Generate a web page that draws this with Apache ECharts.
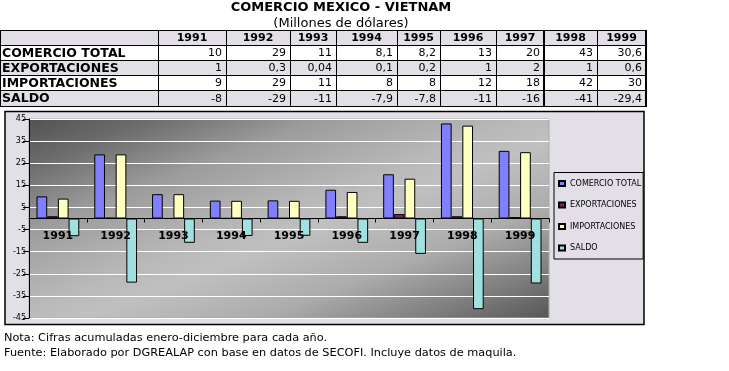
<!DOCTYPE html>
<html><head><meta charset="utf-8">
<script src="https://cdn.jsdelivr.net/npm/echarts@6/dist/echarts.min.js"></script>
<style>html,body{margin:0;padding:0;background:#fff;}#c{width:729px;height:371px;}</style>
</head><body><div id="c"></div>
<script>
// ---- data ----
const years = ['1991','1992','1993','1994','1995','1996','1997','1998','1999'];
const seriesNames = ['COMERCIO TOTAL','EXPORTACIONES','IMPORTACIONES','SALDO'];
const comercioTotal = [10, 29, 11, 8.1, 8.2, 13, 20, 43, 30.6];
const exportaciones = [1, 0.3, 0.04, 0.1, 0.2, 1, 2, 1, 0.6];
const importaciones = [9, 29, 11, 8, 8, 12, 18, 42, 30];
const saldo = [-8, -29, -11, -7.9, -7.8, -11, -16, -41, -29.4];
const yTicks = [-45, -35, -25, -15, -5, 5, 15, 25, 35, 45];
const titleText = 'COMERCIO MEXICO - VIETNAM';
const subtitleText = '(Millones de dólares)';
const noteLines = ['Nota: Cifras acumuladas enero-diciembre para cada año.',
  'Fuente: Elaborado por DGREALAP con base en datos de SECOFI. Incluye datos de maquila.'];

// ---- layout / style ----
const seriesData = [comercioTotal, exportaciones, importaciones, saldo];
const colors = ['#8080ff', '#802060', '#ffffc0', '#a0e0e0'];
const lav = '#e3dfe7';
const FONT = 'DejaVu Sans';
const colX = [0, 158, 226, 290, 336, 397, 440, 496, 544, 597, 646];
const rowY = [30, 45, 60, 75, 90, 106];
const grid = {left: 29, top: 119, width: 520, height: 199};
const yMin = yTicks[0], yMax = yTicks[yTicks.length - 1];
// distance from grid bottom up to the zero line (for the label row)
const zeroOffset = grid.height * (0 - yMin) / (yMax - yMin);

const fmt = v => String(v).replace('.', ',');

const gfx = [];
gfx.push({type: 'rect', z: -10, shape: {x: 5, y: 111.5, width: 639, height: 213},
  style: {fill: lav, stroke: '#000', lineWidth: 1.5}});
gfx.push({type: 'text', x: 341, y: 8, style: {text: titleText, fill: '#000', font: 'bold 13px ' + FONT, align: 'center', verticalAlign: 'middle'}});
gfx.push({type: 'text', x: 341, y: 24, style: {text: subtitleText, fill: '#000', font: '13px ' + FONT, align: 'center', verticalAlign: 'middle'}});
for (let r = 0; r < 5; r++) {
  gfx.push({type: 'rect', shape: {x: 0, y: rowY[r], width: colX[colX.length-1], height: rowY[r+1]-rowY[r]},
    style: {fill: r % 2 === 0 ? lav : '#fff'}});
}
for (let r = 0; r < rowY.length; r++) {
  const y = rowY[r] + 0.5;
  gfx.push({type: 'line', shape: {x1: 0, y1: y, x2: colX[colX.length-1], y2: y}, style: {stroke: '#000', lineWidth: 1}});
}
for (let c = 0; c < colX.length; c++) {
  const thick = (c === 8 || c === colX.length - 1);
  const x = thick ? colX[c] : colX[c] + 0.5;
  gfx.push({type: 'line', shape: {x1: x, y1: rowY[0], x2: x, y2: rowY[rowY.length-1]+1}, style: {stroke: '#000', lineWidth: thick ? 2 : 1}});
}
years.forEach((yr, i) => {
  gfx.push({type: 'text', x: (colX[i+1] + colX[i+2]) / 2, y: (rowY[0] + rowY[1]) / 2 + 1,
    style: {text: yr, fill: '#000', font: 'bold 11px ' + FONT, align: 'center', verticalAlign: 'middle'}});
});
seriesNames.forEach((nm, r) => {
  const cy = (rowY[r+1] + rowY[r+2]) / 2 + 1;
  gfx.push({type: 'text', x: 2, y: cy, style: {text: nm, fill: '#000', font: 'bold 12.5px ' + FONT, align: 'left', verticalAlign: 'middle'}});
  seriesData[r].forEach((v, i) => {
    gfx.push({type: 'text', x: colX[i+2] - 4, y: cy, style: {text: fmt(v), fill: '#000', font: '11px ' + FONT, align: 'right', verticalAlign: 'middle'}});
  });
});
noteLines.forEach((t, i) => {
  gfx.push({type: 'text', x: 4, y: 338 + i * 15, style: {text: t, fill: '#000', font: '11.3px ' + FONT, align: 'left', verticalAlign: 'middle'}});
});

const W = grid.width, H = grid.height;
const k = (2 * W * H) / (H * H + W * W);
const gx2 = H * k / W, gy2 = W * k / H;
const bg = new echarts.graphic.LinearGradient(0, 0, gx2, gy2, [
  {offset: 0, color: '#525252'}, {offset: 0.12, color: '#6c6c6c'}, {offset: 0.28, color: '#9c9c9c'},
  {offset: 0.47, color: '#b8b8b8'}, {offset: 0.55, color: '#c0c0c0'}, {offset: 0.72, color: '#acacac'},
  {offset: 0.88, color: '#7c7c7c'}, {offset: 1, color: '#555555'}]);

const chart = echarts.init(document.getElementById('c'), null, {renderer: 'canvas'});
chart.setOption({
  animation: false,
  backgroundColor: '#fff',
  graphic: {elements: gfx},
  grid: {left: grid.left, top: grid.top, width: grid.width, height: grid.height, show: true,
    backgroundColor: bg, borderColor: '#a8a8a8', borderWidth: 1, containLabel: false},
  legend: {
    orient: 'vertical', left: 554, top: 172.5,
    data: seriesNames,
    backgroundColor: lav, borderColor: '#000', borderWidth: 1, borderRadius: 0,
    padding: [6, 2, 6, 4], itemGap: 11.5, itemWidth: 6, itemHeight: 5, icon: 'rect',
    textStyle: {fontFamily: FONT, fontSize: 8, color: '#000', lineHeight: 10}
  },
  xAxis: [{
    type: 'category', data: years, z: 3,
    axisLine: {onZero: true, onZeroAxisIndex: 0, lineStyle: {color: '#000', width: 1}},
    axisTick: {show: true, length: 4, lineStyle: {color: '#000'}},
    axisLabel: {show: false},
    splitLine: {show: false}
  }, {
    type: 'category', data: years, z: 4, position: 'bottom', offset: -zeroOffset,
    axisLine: {show: false, onZero: false},
    axisTick: {show: false},
    axisLabel: {color: '#000', fontFamily: FONT, fontWeight: 'bold', fontSize: 11, margin: 12},
    splitLine: {show: false}
  }],
  yAxis: {
    type: 'value', min: yMin, max: yMax, interval: yTicks[1] - yTicks[0],
    axisLine: {show: true, lineStyle: {color: '#000'}},
    axisTick: {show: true, length: 6, lineStyle: {color: '#000'}},
    axisLabel: {color: '#000', fontFamily: FONT, fontSize: 8, margin: 3},
    splitLine: {show: true, lineStyle: {color: '#ffffff', width: 1}}
  },
  series: seriesNames.map((nm, i) => ({
    name: nm, type: 'bar', data: seriesData[i], xAxisIndex: 0,
    barGap: '0%', barCategoryGap: '26%',
    itemStyle: {color: colors[i], borderColor: '#000', borderWidth: 1}
  }))
});
</script></body></html>
